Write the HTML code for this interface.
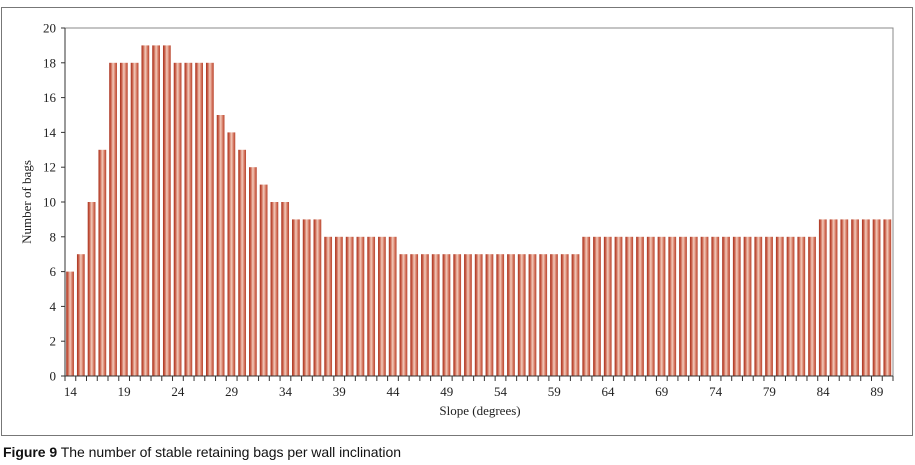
<!DOCTYPE html>
<html><head><meta charset="utf-8"><style>
body{margin:0;background:#fff;width:915px;height:465px;overflow:hidden}
svg{display:block}
</style></head><body>
<svg id="chart" width="915" height="465" xmlns="http://www.w3.org/2000/svg">
<defs>
<linearGradient id="bg" x1="0" x2="1" y1="0" y2="0">
<stop offset="0" stop-color="#a8321e"/><stop offset="0.2" stop-color="#c65a44"/>
<stop offset="0.5" stop-color="#f3cbbb"/><stop offset="0.8" stop-color="#d2705a"/>
<stop offset="1" stop-color="#b8452e"/></linearGradient>
</defs>
<rect x="1.5" y="7.5" width="911" height="428" fill="none" stroke="#777" stroke-width="1"/>
<g id="plot"></g>
<text x="480" y="415" text-anchor="middle" font-family="Liberation Serif, serif" font-size="13" fill="#222">Slope (degrees)</text>
<text transform="translate(31,202) rotate(-90)" text-anchor="middle" font-family="Liberation Serif, serif" font-size="13" fill="#222">Number of bags</text>
<text x="3" y="457" font-family="Liberation Sans, sans-serif" font-size="14" textLength="398" fill="#111"><tspan font-weight="bold">Figure 9</tspan> The number of stable retaining bags per wall inclination</text>
</svg>
<script>
const categories = [];
for (let d = 14; d <= 90; d++) categories.push(d);
const values = [6,7,10,13,18,18,18,19,19,19,18,18,18,18,15,14,13,12,11,10,10,9,9,9,
8,8,8,8,8,8,8,
7,7,7,7,7,7,7,7,7,7,7,7,7,7,7,7,7,
8,8,8,8,8,8,8,8,8,8,8,8,8,8,8,8,8,8,8,8,8,8,
9,9,9,9,9,9,9];
const yTicks = [0,2,4,6,8,10,12,14,16,18,20];
const xLabels = [14,19,24,29,34,39,44,49,54,59,64,69,74,79,84,89];

const NS = "http://www.w3.org/2000/svg";
const L = 65, R = 893, T = 28, B = 376;
const band = (R - L) / categories.length;
const x = i => L + i * band;
const y = v => B - (v / 20) * (B - T);
const g = document.getElementById('plot');
function mk(tag, attrs){const e=document.createElementNS(NS,tag);for(const k in attrs)e.setAttribute(k,attrs[k]);g.appendChild(e);return e;}

values.forEach((v,i)=>{
  const r = mk('rect',{x:x(i)+1.2,y:y(v),width:band-3,height:B-y(v),fill:'url(#bg)'});
  
  
});
const fr = mk('path',{d:`M${L} ${T}H${R}V${B}`,fill:'none',stroke:'#888','stroke-width':1});


const ya = mk('line',{x1:L,x2:L,y1:T,y2:B+0.5,stroke:'#333','stroke-width':1});


const xa = mk('line',{x1:L,x2:R,y1:B,y2:B,stroke:'#333','stroke-width':1});


yTicks.forEach(t=>{
  mk('line',{x1:L-4,x2:L,y1:y(t),y2:y(t),stroke:'#333'});
  const tx = mk('text',{x:56,y:y(t)+4.5,'text-anchor':'end','font-family':'Liberation Serif, serif','font-size':13,fill:'#222'});
  tx.textContent = t;
  
  
});
for(let i=0;i<=categories.length;i++) mk('line',{x1:x(i),x2:x(i),y1:B,y2:B+5,stroke:'#333'});
xLabels.forEach(c=>{
  const i = categories.indexOf(c);
  const tx = mk('text',{x:x(i)+band/2,y:B+20,'text-anchor':'middle','font-family':'Liberation Serif, serif','font-size':13,fill:'#222'});
  tx.textContent = c;
  
  
});
</script>
</body></html>
